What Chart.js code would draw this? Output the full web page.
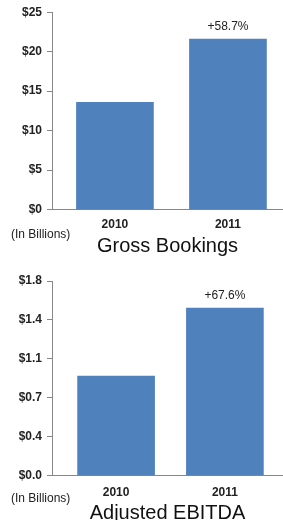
<!DOCTYPE html>
<html>
<head>
<meta charset="utf-8">
<script src="https://cdn.jsdelivr.net/npm/chart.js@4"></script>
<style>
  body { margin: 0; background: #fff; font-family: "Liberation Sans", Arial, sans-serif; }
  .box { position: relative; width: 283px; height: 260px; }
  .unit { position: absolute; left: 11px; font-size: 12px; line-height: 14px; color: #222; }
</style>
</head>
<body>
<div class="box">
  <canvas id="bookingsChart"></canvas>
  <div class="unit" style="top:227px">(In Billions)</div>
</div>
<div class="box">
  <canvas id="ebitdaChart"></canvas>
  <div class="unit" style="top:231px">(In Billions)</div>
</div>
<script>
const years = ["2010", "2011"];
const grossBookings = [13.6, 21.6];
const adjustedEbitda = [0.92, 1.55];
const bookingsTicks = [0, 5, 10, 15, 20, 25];
const ebitdaTicks = [0, 0.36, 0.72, 1.08, 1.44, 1.8];
const bookingsGrowth = "+58.7%";
const ebitdaGrowth = "+67.6%";

const FONT = "'Liberation Sans', Arial, sans-serif";

// growth label above the 2011 bar
const growthLabel = {
  id: "growthLabel",
  afterDatasetsDraw(chart, args, opts) {
    const bar = chart.getDatasetMeta(0).data[1];
    const ctx = chart.ctx;
    ctx.save();
    ctx.font = "12px " + FONT;
    ctx.fillStyle = "#222";
    ctx.textAlign = "center";
    ctx.textBaseline = "middle";
    ctx.fillText(opts.text, bar.x, bar.y - 12.5);
    ctx.restore();
  }
};

function makeChart(id, values, ticks, decimals, xMin, xMax, growth, title, pad, tickPad, titleTop) {
  return new Chart(document.getElementById(id), {
    type: "bar",
    data: {
      datasets: [{
        data: values.map((v, i) => ({ x: i, y: v })),
        backgroundColor: "#4F81BD",
        barThickness: 77
      }]
    },
    options: {
      responsive: true,
      maintainAspectRatio: false,
      animation: false,
      layout: { padding: pad },
      plugins: {
        legend: { display: false },
        tooltip: { enabled: false },
        title: {
          display: true,
          text: title,
          position: "bottom",
          fullSize: false,
          color: "#111",
          font: { family: FONT, size: 20, weight: "normal" },
          padding: { top: titleTop, bottom: 0 }
        },
        growthLabel: { text: growth }
      },
      scales: {
        x: {
          type: "linear",
          offset: false,
          min: xMin,
          max: xMax,
          afterBuildTicks: (s) => { s.ticks = years.map((y, i) => ({ value: i })); },
          ticks: {
            callback: (v) => years[v],
            color: "#222",
            padding: tickPad,
            font: { family: FONT, size: 12, weight: "bold" }
          },
          grid: { display: false },
          border: { color: "#888" }
        },
        y: {
          min: ticks[0],
          max: ticks[ticks.length - 1],
          afterBuildTicks: (s) => { s.ticks = ticks.map(v => ({ value: v })); },
          afterFit: (s) => { s.width = 52; },
          ticks: {
            callback: (v) => "$" + v.toFixed(decimals),
            color: "#222",
            padding: 5,
            font: { family: FONT, size: 12, weight: "bold" }
          },
          grid: { drawOnChartArea: false, tickLength: 5, color: "#888" },
          border: { color: "#888" }
        }
      }
    },
    plugins: [growthLabel]
  });
}

makeChart("bookingsChart", grossBookings, bookingsTicks, 0, -0.557, 1.487,
  bookingsGrowth, "Gross Bookings", { top: 8, right: 0, bottom: 2, left: 0 }, 0, 2);
makeChart("ebitdaChart", adjustedEbitda, ebitdaTicks, 1, -0.589, 1.534,
  ebitdaGrowth, "Adjusted EBITDA", { top: 21, right: 0, bottom: -5, left: 0 }, 2, -1);
</script>
</body>
</html>
